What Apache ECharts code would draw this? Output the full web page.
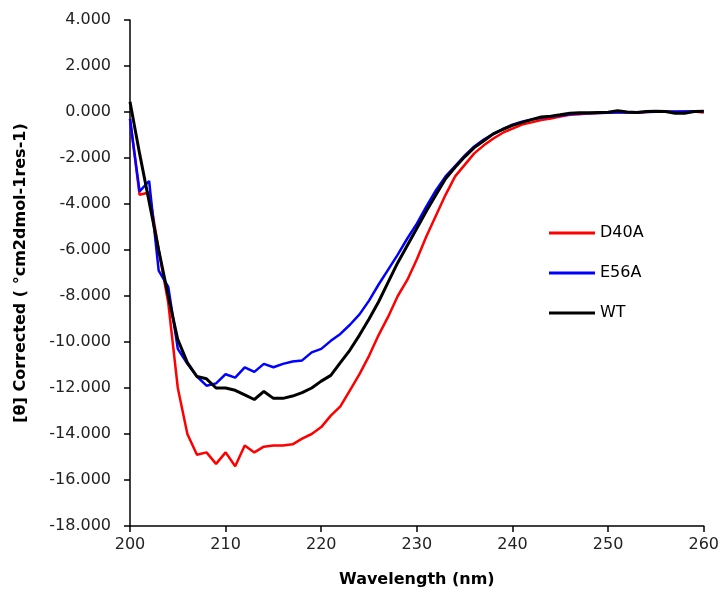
<!DOCTYPE html>
<html>
<head>
<meta charset="utf-8">
<script src="https://cdn.jsdelivr.net/npm/echarts@6/dist/echarts.min.js"></script>
<style>html,body{margin:0;padding:0;background:#fff;}#c{width:722px;height:597px;}</style>
</head>
<body>
<div id="c"></div>
<script>
const wavelengths = [200,201,202,203,204,205,206,207,208,209,210,211,212,213,214,215,216,217,218,219,220,221,222,223,224,225,226,227,228,229,230,231,232,233,234,235,236,237,238,239,240,241,242,243,244,245,246,247,248,249,250,251,252,253,254,255,256,257,258,259,260];
const d40a = [-0.3,-3.6,-3.5,-6.0,-8.3,-12.0,-14.0,-14.9,-14.8,-15.3,-14.8,-15.4,-14.5,-14.8,-14.55,-14.5,-14.5,-14.45,-14.2,-14.0,-13.7,-13.2,-12.8,-12.1,-11.4,-10.6,-9.7,-8.9,-8.0,-7.3,-6.4,-5.4,-4.5,-3.6,-2.8,-2.3,-1.8,-1.45,-1.15,-0.9,-0.72,-0.55,-0.45,-0.35,-0.28,-0.2,-0.12,-0.1,-0.06,-0.04,-0.02,0.0,-0.02,-0.03,0.0,0.02,0.01,0.0,0.02,0.02,-0.02];
const e56a = [-0.3,-3.45,-3.0,-6.9,-7.6,-10.3,-10.95,-11.5,-11.9,-11.8,-11.4,-11.55,-11.1,-11.3,-10.95,-11.1,-10.95,-10.85,-10.8,-10.45,-10.3,-9.95,-9.65,-9.25,-8.8,-8.2,-7.5,-6.85,-6.2,-5.5,-4.85,-4.1,-3.4,-2.8,-2.35,-1.9,-1.5,-1.2,-0.95,-0.75,-0.55,-0.42,-0.32,-0.25,-0.2,-0.15,-0.1,-0.07,-0.05,-0.04,-0.03,-0.02,-0.02,-0.01,0.0,0.01,0.02,0.02,0.02,0.03,0.03];
const wt = [0.45,-1.8,-3.9,-6.0,-8.0,-9.9,-10.9,-11.5,-11.6,-12.0,-12.0,-12.1,-12.3,-12.5,-12.15,-12.45,-12.45,-12.35,-12.2,-12.0,-11.7,-11.45,-10.9,-10.35,-9.7,-9.0,-8.25,-7.4,-6.55,-5.8,-5.05,-4.3,-3.6,-2.9,-2.4,-1.95,-1.55,-1.25,-0.95,-0.75,-0.58,-0.45,-0.33,-0.22,-0.18,-0.12,-0.05,-0.03,-0.03,-0.02,-0.01,0.05,0.0,-0.02,0.02,0.03,0.02,-0.05,-0.05,0.02,0.03];
const seriesNames = ['D40A','E56A','WT'];
const seriesColors = ['#ff0000','#0000ff','#000000'];
const yTitle = '[θ] Corrected ( °cm2dmol-1res-1)';
const xTitle = 'Wavelength (nm)';

const FONT = '"DejaVu Sans", sans-serif';
const pairs = arr => wavelengths.map((w,i)=>[w,arr[i]]);
const allData = [d40a,e56a,wt];

const chart = echarts.init(document.getElementById('c'), null, {renderer:'canvas'});
chart.setOption({
  animation:false,
  backgroundColor:'#fff',
  grid:{left:130,right:18,top:20,bottom:71,containLabel:false},
  legend:{
    orient:'vertical', left:549, top:225, padding:0, itemWidth:46, itemHeight:3, itemGap:24,
    icon:'rect',
    data: seriesNames.map((n,i)=>({name:n, itemStyle:{color:seriesColors[i]}})),
    textStyle:{fontFamily:FONT,fontSize:16,color:'#000'}
  },
  xAxis:{
    type:'value', min:200, max:260, interval:10,
    name:xTitle, nameLocation:'middle', nameGap:46,
    nameTextStyle:{fontFamily:FONT,fontSize:16,fontWeight:'bold',color:'#000'},
    axisLine:{onZero:false,lineStyle:{color:'#000',width:1.5}},
    axisTick:{show:true,length:6,lineStyle:{color:'#000',width:1.5}},
    axisLabel:{fontFamily:FONT,fontSize:16,color:'#222',margin:11},
    splitLine:{show:false}
  },
  yAxis:{
    type:'value', min:-18, max:4, interval:2,
    name:yTitle, nameLocation:'middle', nameGap:101, nameRotate:90,
    nameTextStyle:{fontFamily:FONT,fontSize:16,fontWeight:'bold',color:'#000'},
    axisLine:{show:true,onZero:false,lineStyle:{color:'#000',width:1.5}},
    axisTick:{show:true,length:6,lineStyle:{color:'#000',width:1.5}},
    axisLabel:{fontFamily:FONT,fontSize:16,color:'#222',margin:19,formatter:v=>v.toFixed(3)},
    splitLine:{show:false}
  },
  series: seriesNames.map((n,i)=>({
    name:n, type:'line', data:pairs(allData[i]), symbol:'none', smooth:false,
    lineStyle:{color:seriesColors[i], width: i===2?3:2.5},
    itemStyle:{color:seriesColors[i]}
  }))
});
</script>
</body>
</html>
